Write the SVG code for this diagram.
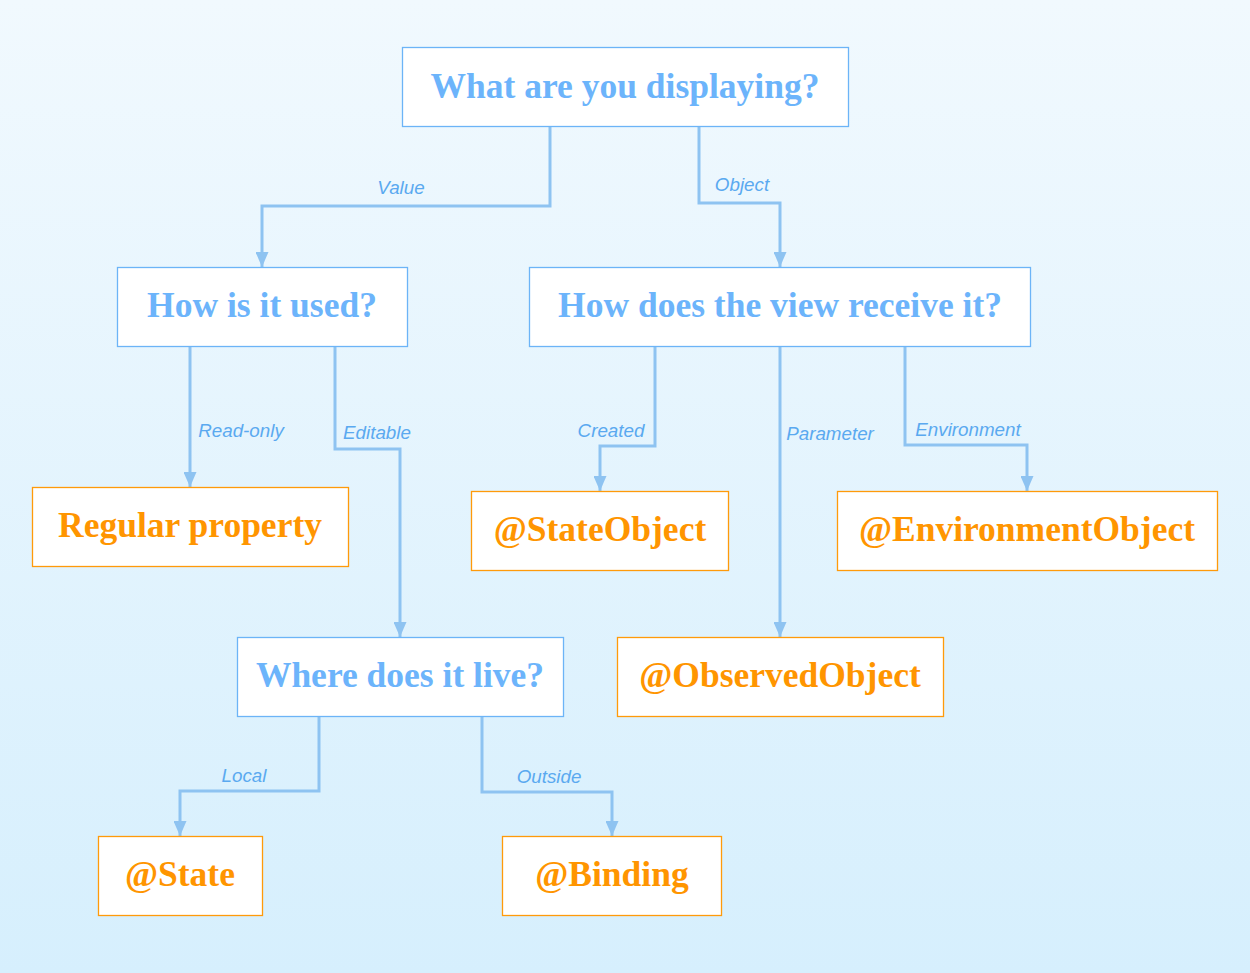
<svg xmlns="http://www.w3.org/2000/svg" width="1250" height="973" viewBox="0 0 1250 973">
<defs>
<linearGradient id="bg" x1="0" y1="0" x2="0" y2="1">
<stop offset="0" stop-color="#f1f9fe"/>
<stop offset="1" stop-color="#d6effd"/>
</linearGradient>
<marker id="arr" markerUnits="userSpaceOnUse" markerWidth="15" markerHeight="13" viewBox="0 0 15 13" refX="15" refY="6.5" orient="auto">
<path d="M0,0 L15,6.5 L0,13 z" fill="#8ec3f1"/>
</marker>
<style>
.q rect{fill:#fff;stroke:#6cb4f7;stroke-width:1.3}
.a rect{fill:#fff;stroke:#ff9a0a;stroke-width:1.3}
.q text{fill:#6cb4fb;font-family:"Liberation Serif",serif;font-weight:bold;font-size:35.5px;text-anchor:middle}
.a text{fill:#ff9500;font-family:"Liberation Serif",serif;font-weight:bold;font-size:35.5px;text-anchor:middle}
#connectors path{fill:none;stroke:#8ec3f1;stroke-width:3;marker-end:url(#arr)}
#connectors text{fill:#5aa9f0;font-family:"Liberation Sans",sans-serif;font-style:italic;font-size:18.8px;text-anchor:middle}
</style>
</defs>
<rect width="1250" height="973" fill="url(#bg)"/>
<g id="connectors">
<path d="M550,126 V206 H262 V267"/>
<path d="M699,126 V203 H780 V267"/>
<path d="M190,346 V487"/>
<path d="M335,346 V449 H400 V637"/>
<path d="M655,346 V446 H600 V491"/>
<path d="M780,346 V637"/>
<path d="M905,346 V445 H1027 V491"/>
<path d="M319,716 V791 H180 V836"/>
<path d="M482,716 V792 H612 V836"/>
<text x="401" y="194">Value</text>
<text x="742" y="191">Object</text>
<text x="241" y="437">Read-only</text>
<text x="377" y="439">Editable</text>
<text x="611" y="437">Created</text>
<text x="830" y="440">Parameter</text>
<text x="968" y="436">Environment</text>
<text x="244" y="782">Local</text>
<text x="549" y="783">Outside</text>
</g>
<g id="n-display" class="q"><rect x="402.5" y="47.5" width="446" height="79"/><text x="625" y="98">What are you displaying?</text></g>
<g id="n-used" class="q"><rect x="117.5" y="267.5" width="290" height="79"/><text x="262" y="317">How is it used?</text></g>
<g id="n-receive" class="q"><rect x="529.5" y="267.5" width="501" height="79"/><text x="780" y="317">How does the view receive it?</text></g>
<g id="n-regular" class="a"><rect x="32.5" y="487.5" width="316" height="79"/><text x="190" y="537">Regular property</text></g>
<g id="n-stateobject" class="a"><rect x="471.5" y="491.5" width="257" height="79"/><text x="600" y="541">@StateObject</text></g>
<g id="n-envobject" class="a"><rect x="837.5" y="491.5" width="380" height="79"/><text x="1027" y="541">@EnvironmentObject</text></g>
<g id="n-live" class="q"><rect x="237.5" y="637.5" width="326" height="79"/><text x="400" y="687">Where does it live?</text></g>
<g id="n-observed" class="a"><rect x="617.5" y="637.5" width="326" height="79"/><text x="780" y="687">@ObservedObject</text></g>
<g id="n-state" class="a"><rect x="98.5" y="836.5" width="164" height="79"/><text x="180" y="886">@State</text></g>
<g id="n-binding" class="a"><rect x="502.5" y="836.5" width="219" height="79"/><text x="612" y="886">@Binding</text></g>
</svg>
